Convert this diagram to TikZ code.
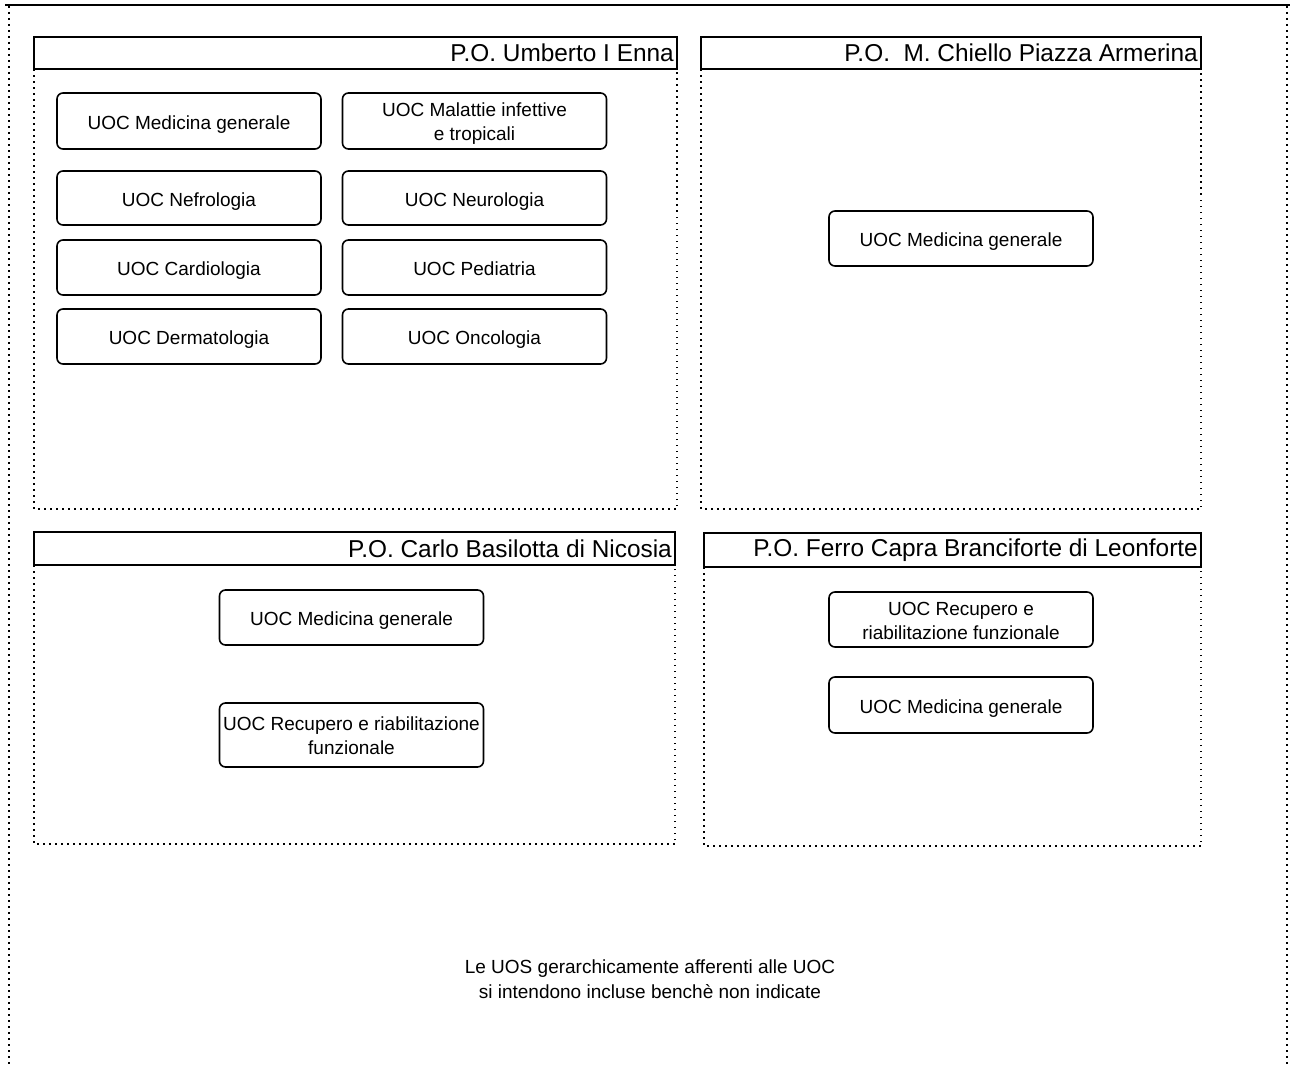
\documentclass[tikz,border=0pt]{standalone}
\usepackage{fontspec}
\setmainfont{Liberation Sans}
% two-line box label, set a little below the geometric centre
\newcommand{\twolines}[2]{\raisebox{-3pt}[\height][\depth]{\begin{tabular}{@{}c@{}}#1\\#2\end{tabular}}}
\begin{document}
\begin{tikzpicture}[x=1pt,y=-1pt,
  frameline/.style={line width=2.2pt},
  framedots/.style={line width=1.6pt,dash pattern=on 1.6pt off 4.4pt},
  bodydots/.style={line width=1.5pt,dash pattern=on 1.5pt off 4.5pt},
  header/.style={draw,line width=1.6pt},
  headtext/.style={anchor=east,inner sep=0pt,font=\fontsize{24.4}{29}\selectfont},
  uocbox/.style={draw,line width=1.6pt,rounded corners=6pt,minimum width=264pt,
    inner sep=0pt,font=\fontsize{19}{24}\selectfont},
  uoc/.style={uocbox,text height=20pt,text depth=4pt},
  uoctwo/.style={uocbox},
  note/.style={align=center,inner sep=0pt,font=\fontsize{19}{25}\selectfont}]
\useasboundingbox (0,0) rectangle (1295,1065);

% outer sheet frame
\coordinate (fTL) at (5,5);
\coordinate (fTR) at (1290,5);
\draw[frameline] (fTL) -- (fTR);
\coordinate (fL1) at (9,6);
\coordinate (fL2) at (9,1065);
\coordinate (fR1) at (1287,6);
\coordinate (fR2) at (1287,1065);
\draw[framedots] (fL1) -- (fL2);
\draw[framedots] (fR1) -- (fR2);

% ---------- P.O. Umberto I Enna ----------
\coordinate (a1) at (34,37);
\coordinate (a2) at (677,69);
\coordinate (a3) at (34,509);
\coordinate (a4) at (677,509);
\draw[header] (a1) rectangle (a2);
\draw[bodydots] (a1 |- a2) -- (a3) -- (a4) -- (a2);
\node[headtext] (ha) at (674,53) {P.O. Umberto I Enna};

\node[uoc,minimum height=56pt] (a11) at (189,121) {UOC Medicina generale};
\node[uoctwo,minimum height=56pt] (a12) at (474.5,121) {\twolines{UOC Malattie infettive}{e tropicali}};
\node[uoc,minimum height=54pt] (a21) at (189,198) {UOC Nefrologia};
\node[uoc,minimum height=54pt] (a22) at (474.5,198) {UOC Neurologia};
\node[uoc,minimum height=55pt] (a31) at (189,267.5) {UOC Cardiologia};
\node[uoc,minimum height=55pt] (a32) at (474.5,267.5) {UOC Pediatria};
\node[uoc,minimum height=55pt] (a41) at (189,336.5) {UOC Dermatologia};
\node[uoc,minimum height=55pt] (a42) at (474.5,336.5) {UOC Oncologia};

% ---------- P.O. M. Chiello Piazza Armerina ----------
\coordinate (b1) at (701,37);
\coordinate (b2) at (1201,69);
\coordinate (b3) at (701,509);
\coordinate (b4) at (1201,509);
\draw[header] (b1) rectangle (b2);
\draw[bodydots] (b1 |- b2) -- (b3) -- (b4) -- (b2);
\node[headtext] (hb) at (1198,53) {P.O.\ \ M. Chiello Piazza Armerina};

\node[uoc,minimum height=55pt] (b11) at (961,238.5) {UOC Medicina generale};

% ---------- P.O. Carlo Basilotta di Nicosia ----------
\coordinate (c1) at (34,532);
\coordinate (c2) at (675,565);
\coordinate (c3) at (34,844);
\coordinate (c4) at (675,844);
\draw[header] (c1) rectangle (c2);
\draw[bodydots] (c1 |- c2) -- (c3) -- (c4) -- (c2);
\node[headtext] (hc) at (672,548.5) {P.O. Carlo Basilotta di Nicosia};

\node[uoc,minimum height=55pt] (c11) at (351.5,617.5) {UOC Medicina generale};
\node[uoctwo,minimum height=64pt] (c21) at (351.5,735) {\twolines{UOC Recupero e riabilitazione}{funzionale}};

% ---------- P.O. Ferro Capra Branciforte di Leonforte ----------
\coordinate (d1) at (704,533);
\coordinate (d2) at (1201,567);
\coordinate (d3) at (704,846);
\coordinate (d4) at (1201,846);
\draw[header] (d1) rectangle (d2);
\draw[bodydots] (d1 |- d2) -- (d3) -- (d4) -- (d2);
\node[headtext] (hd) at (1198,550) {P.O. Ferro Capra Branciforte di Leonforte};

\node[uoctwo,minimum height=55pt] (d11) at (961,619.5) {\twolines{UOC Recupero e}{riabilitazione funzionale}};
\node[uoc,minimum height=56pt] (d21) at (961,705) {UOC Medicina generale};

% footnote
\node[note] (nt) at (650,979.5) {Le UOS gerarchicamente afferenti alle UOC\\si intendono incluse bench\`e non indicate};
\end{tikzpicture}
\end{document}
